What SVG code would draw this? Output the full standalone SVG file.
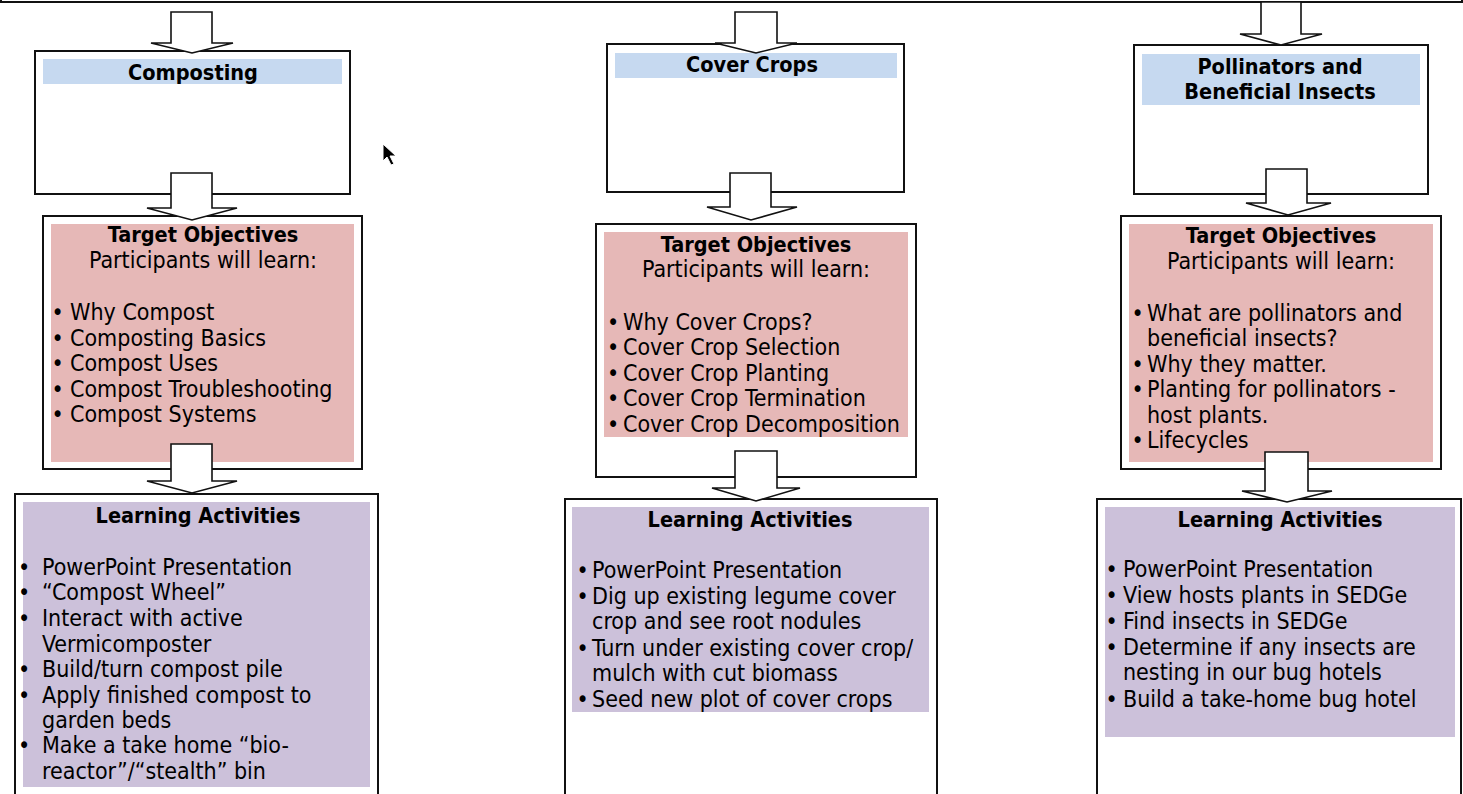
<svg xmlns="http://www.w3.org/2000/svg" width="1463" height="794" viewBox="0 0 1463 794">
<defs>
<style>
.box{fill:#ffffff;stroke:#111;stroke-width:2}
.blue{fill:#c6d9f0}
.pink{fill:#e6b8b7}
.purple{fill:#ccc1da}
.arrow{fill:#ffffff;stroke:#111;stroke-width:1.6;stroke-linejoin:miter}
text{font-family:"DejaVu Sans Condensed","DejaVu Sans",sans-serif;font-stretch:condensed;font-size:23px;fill:#000}
.t{font-weight:bold;text-anchor:middle;font-size:21.5px}
.c{text-anchor:middle}
</style>
</defs>
<rect x="1" y="-20" width="1461" height="22" fill="#fff" stroke="#111" stroke-width="2"/>

<g id="composting">
<rect class="box" x="35" y="51" width="315" height="143"/>
<rect class="blue" x="43" y="59" width="299" height="25"/>
<text class="t" x="193" y="80">Composting</text>
</g>
<g id="composting-objectives">
<rect class="box" x="43" y="216" width="319" height="253"/>
<rect class="pink" x="51" y="224" width="303" height="238"/>
<text class="t" x="203" y="242">Target Objectives</text>
<text class="c" x="203" y="268">Participants will learn:</text>
<text x="51.5" y="320">•</text><text x="70" y="320">Why Compost</text>
<text x="51.5" y="345.5">•</text><text x="70" y="345.5">Composting Basics</text>
<text x="51.5" y="371">•</text><text x="70" y="371">Compost Uses</text>
<text x="51.5" y="396.5">•</text><text x="70" y="396.5">Compost Troubleshooting</text>
<text x="51.5" y="422">•</text><text x="70" y="422">Compost Systems</text>
</g>
<g id="composting-activities">
<rect class="box" x="15" y="494" width="363" height="320"/>
<rect class="purple" x="23" y="502" width="347" height="285"/>
<text class="t" x="198" y="523">Learning Activities</text>
<text x="18" y="575">•</text><text x="42" y="575">PowerPoint Presentation</text>
<text x="18" y="600">•</text><text x="42" y="600">“Compost Wheel”</text>
<text x="18" y="626">•</text><text x="42" y="626">Interact with active</text>
<text x="42" y="652">Vermicomposter</text>
<text x="18" y="677">•</text><text x="42" y="677">Build/turn compost pile</text>
<text x="18" y="703">•</text><text x="42" y="703">Apply finished compost to</text>
<text x="42" y="728">garden beds</text>
<text x="18" y="753">•</text><text x="42" y="753">Make a take home “bio-</text>
<text x="42" y="779">reactor”/“stealth” bin</text>
</g>

<g id="cover-crops">
<rect class="box" x="607" y="44" width="297" height="148"/>
<rect class="blue" x="615" y="53" width="282" height="25"/>
<text class="t" x="752" y="72">Cover Crops</text>
</g>
<g id="cover-crops-objectives">
<rect class="box" x="596" y="224" width="320" height="253"/>
<rect class="pink" x="604" y="232" width="304" height="205"/>
<text class="t" x="756" y="252">Target Objectives</text>
<text class="c" x="756" y="277">Participants will learn:</text>
<text x="607" y="330">•</text><text x="623" y="330">Why Cover Crops?</text>
<text x="607" y="355">•</text><text x="623" y="355">Cover Crop Selection</text>
<text x="607" y="381">•</text><text x="623" y="381">Cover Crop Planting</text>
<text x="607" y="406">•</text><text x="623" y="406">Cover Crop Termination</text>
<text x="607" y="432">•</text><text x="623" y="432">Cover Crop Decomposition</text>
</g>
<g id="cover-crops-activities">
<rect class="box" x="565" y="499" width="372" height="320"/>
<rect class="purple" x="572" y="507" width="357" height="205"/>
<text class="t" x="750" y="527">Learning Activities</text>
<text x="576.5" y="578">•</text><text x="592" y="578">PowerPoint Presentation</text>
<text x="576.5" y="604">•</text><text x="592" y="604">Dig up existing legume cover</text>
<text x="592" y="629">crop and see root nodules</text>
<text x="576.5" y="656">•</text><text x="592" y="656">Turn under existing cover crop/</text>
<text x="592" y="681">mulch with cut biomass</text>
<text x="576.5" y="707">•</text><text x="592" y="707">Seed new plot of cover crops</text>
</g>

<g id="pollinators">
<rect class="box" x="1134" y="45" width="294" height="149"/>
<rect class="blue" x="1142" y="54" width="278" height="51"/>
<text class="t" x="1280" y="74">Pollinators and</text>
<text class="t" x="1280" y="99">Beneficial Insects</text>
</g>
<g id="pollinators-objectives">
<rect class="box" x="1121" y="216" width="320" height="253"/>
<rect class="pink" x="1129" y="224" width="304" height="238"/>
<text class="t" x="1281" y="243">Target Objectives</text>
<text class="c" x="1281" y="269">Participants will learn:</text>
<text x="1131.5" y="321">•</text><text x="1147" y="321">What are pollinators and</text>
<text x="1147" y="346">beneficial insects?</text>
<text x="1131.5" y="372">•</text><text x="1147" y="372">Why they matter.</text>
<text x="1131.5" y="397">•</text><text x="1147" y="397">Planting for pollinators -</text>
<text x="1147" y="423">host plants.</text>
<text x="1131.5" y="448">•</text><text x="1147" y="448">Lifecycles</text>
</g>
<g id="pollinators-activities">
<rect class="box" x="1097" y="499" width="364" height="320"/>
<rect class="purple" x="1105" y="507" width="350" height="230"/>
<text class="t" x="1280" y="527">Learning Activities</text>
<text x="1105.5" y="577">•</text><text x="1123" y="577">PowerPoint Presentation</text>
<text x="1105.5" y="603">•</text><text x="1123" y="603">View hosts plants in SEDGe</text>
<text x="1105.5" y="629">•</text><text x="1123" y="629">Find insects in SEDGe</text>
<text x="1105.5" y="655">•</text><text x="1123" y="655">Determine if any insects are</text>
<text x="1123" y="680">nesting in our bug hotels</text>
<text x="1105.5" y="707">•</text><text x="1123" y="707">Build a take-home bug hotel</text>
</g>

<g id="connectors">
<polygon class="arrow" points="171,12 212,12 212,43 233,43 192,53 151,43 171,43"/>
<polygon class="arrow" points="171,173 212,173 212,208 237,208 192,220 147,208 171,208"/>
<polygon class="arrow" points="171,444 212,444 212,481 237,481 192,493 147,481 171,481"/>
<polygon class="arrow" points="735,12 777,12 777,43 797,43 756,53 715,43 735,43"/>
<polygon class="arrow" points="730,173 771,173 771,207 797,207 751,220 707,207 730,207"/>
<polygon class="arrow" points="735,451 777,451 777,488 800,488 756,501 712,488 735,488"/>
<polygon class="arrow" points="1261,2 1301,2 1301,34 1322,34 1281,45 1240,34 1261,34"/>
<polygon class="arrow" points="1266,169 1307,169 1307,203 1331,203 1288,215 1246,203 1266,203"/>
<polygon class="arrow" points="1265,452 1308,452 1308,491 1332,491 1287,502 1242,491 1265,491"/>
</g>

<polygon points="383,144 383,161 387,157 391,165 394,164 390,156 396,156" fill="#000" stroke="#fff" stroke-width="1"/>
</svg>
